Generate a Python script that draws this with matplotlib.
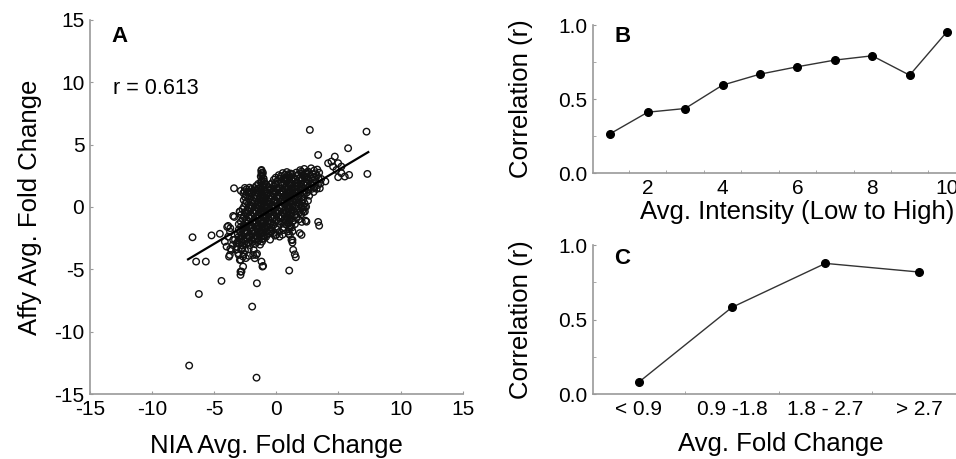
import numpy as np
import matplotlib
matplotlib.use("Agg")
import matplotlib.pyplot as plt
from matplotlib.ticker import FixedLocator

plt.rcParams['font.family'] = ['Liberation Sans', 'DejaVu Sans']
plt.rcParams['axes.unicode_minus'] = False

# ---- panel A: NIA vs Affy average fold change ----
outlier_pts = [
    (2.70, 6.18), (7.26, 6.04), (5.78, 4.71), (3.37, 4.17), (7.33, 2.65),
    (4.71, 4.04), (4.44, 3.64), (4.98, 3.51), (4.17, 3.51), (4.57, 3.24),
    (5.24, 3.24), (4.84, 2.97), (5.24, 2.71), (5.51, 2.44), (4.98, 2.39),
    (5.86, 2.57), (2.16, 2.57), (2.43, 2.71), (2.03, 2.84), (3.37, 1.77),
    (3.50, 1.50),
    (-6.74, -2.43), (-5.21, -2.28), (-4.54, -2.15), (-3.40, 1.50), (-6.45, -4.38),
    (-5.67, -4.38), (-4.41, -5.93), (-6.23, -6.98), (-7.01, -12.72), (-1.59, -13.69),
    (-1.94, -7.99), (-1.56, -6.12), (1.04, -5.10), (1.49, -3.80), (1.57, -4.03),
    (1.36, -3.44), (-1.06, -4.73), (-1.19, -4.38), (-1.73, -4.11), (-1.86, -3.85),
    (-2.88, -5.19), (-2.88, -5.45), (-2.67, -4.78), (-2.80, -5.18), (-1.11, -4.78),
    (3.37, -1.20), (3.45, -1.50), (2.16, 0.03), (2.30, -0.37), (2.43, -1.18),
    (1.89, -2.10), (2.03, -2.24), (1.22, -2.64), (1.30, -2.86), (0.95, -1.97),
    (1.09, -2.24), (0.00, -2.24), (0.26, -2.38), (-0.25, -2.10), (-0.52, -1.97),
    (-3.47, -0.72), (-2.93, -0.37), (-3.87, -1.52), (-3.70, -1.70), (-4.00, -3.18),
    (-3.60, -3.44), (-3.74, -3.85), (-3.07, -3.71), (-2.80, -3.44), (-2.67, -3.98),
    (-2.93, -4.25), (-4.14, -2.78), (-3.87, -2.38), (-3.47, -2.64), (-3.20, -2.91),
    (-2.40, -1.58), (-2.53, 1.53), (-2.29, 1.21), (-1.19, 2.97), (-1.19, 2.73),
]

core_pts = [
    (-1.20, 2.90), (-1.12, 2.62), (-1.25, 2.45), (0.52, 2.72), (0.85, 2.80),
    (1.15, 2.68), (1.92, 2.95), (2.25, 3.05), (2.55, 2.85), (2.80, 3.10),
    (3.05, 2.92), (3.30, 3.00), (3.45, 2.75), (2.05, 2.70), (1.60, 2.75),
    (-1.05, 2.30), (-1.18, 2.15), (-0.05, 2.35), (0.35, 2.45), (0.70, 2.30),
    (1.02, 2.50), (1.35, 2.38), (1.62, 2.48), (1.88, 2.32), (2.18, 2.52),
    (2.46, 2.40), (2.74, 2.55), (3.02, 2.38), (3.28, 2.50), (3.62, 2.25),
    (3.95, 2.05), (2.95, 2.62),
    (-1.22, 1.95), (-0.98, 2.05), (-0.35, 1.90), (0.08, 2.08), (0.42, 1.98),
    (0.76, 2.12), (1.08, 1.92), (1.40, 2.06), (1.72, 1.95), (2.02, 2.15),
    (2.30, 1.98), (2.62, 2.10), (2.90, 1.92), (3.20, 2.02), (3.55, 1.88),
    (1.25, 2.20), (2.45, 2.25),
    (-2.15, 1.55), (-1.62, 1.68), (-1.30, 1.52), (-1.02, 1.70), (-0.62, 1.58),
    (-0.22, 1.66), (0.18, 1.52), (0.48, 1.72), (0.82, 1.60), (1.12, 1.75),
    (1.44, 1.55), (1.70, 1.68), (2.02, 1.58), (2.35, 1.72), (2.70, 1.62),
    (3.08, 1.55), (1.95, 1.82), (0.95, 1.42),
    (-2.85, 1.30), (-2.55, 1.25), (-1.85, 1.28), (-1.55, 1.32), (-1.22, 1.38),
    (-0.88, 1.25), (-0.52, 1.35), (-0.18, 1.22), (0.12, 1.38), (0.42, 1.28),
    (0.72, 1.40), (1.02, 1.22), (1.32, 1.35), (1.62, 1.25), (1.92, 1.40),
    (2.25, 1.30), (2.60, 1.38), (3.00, 1.20), (3.25, 1.45),
    (-2.42, 0.95), (-2.02, 1.05), (-1.72, 0.92), (-1.42, 1.08), (-1.12, 0.98),
    (-0.82, 1.05), (-0.48, 0.92), (-0.18, 1.06), (0.12, 0.95), (0.40, 1.08),
    (0.70, 0.92), (1.00, 1.05), (1.30, 0.95), (1.60, 1.10), (1.90, 0.98),
    (2.28, 1.02), (2.65, 0.90),
    (-2.62, 0.55), (-2.22, 0.65), (-1.92, 0.52), (-1.62, 0.68), (-1.30, 0.58),
    (-1.02, 0.66), (-0.70, 0.52), (-0.40, 0.62), (-0.10, 0.55), (0.22, 0.68),
    (0.50, 0.58), (0.82, 0.64), (1.10, 0.52), (1.42, 0.66), (1.80, 0.58),
    (2.18, 0.62), (2.55, 0.50),
    (-2.48, 0.25), (-2.12, 0.15), (-1.80, 0.28), (-1.50, 0.18), (-1.18, 0.25),
    (-0.90, 0.12), (-0.58, 0.28), (-0.30, 0.15), (0.02, 0.25), (0.32, 0.12),
    (0.62, 0.28), (0.92, 0.18), (1.22, 0.26), (1.52, 0.14), (1.88, 0.22),
    (2.28, 0.30), (2.40, 0.02),
    (-2.72, -0.18), (-2.32, -0.25), (-2.00, -0.12), (-1.70, -0.28), (-1.40, -0.15),
    (-1.08, -0.22), (-0.78, -0.12), (-0.48, -0.28), (-0.20, -0.15), (0.10, -0.25),
    (0.40, -0.12), (0.72, -0.26), (1.02, -0.18), (1.32, -0.28), (1.70, -0.15),
    (2.12, -0.25), (2.30, 0.00),
    (-2.95, -0.38), (-2.82, -0.62), (-2.42, -0.55), (-2.10, -0.68), (-1.80, -0.52),
    (-1.50, -0.65), (-1.20, -0.55), (-0.90, -0.68), (-0.60, -0.52), (-0.30, -0.62),
    (0.02, -0.55), (0.30, -0.68), (0.62, -0.58), (0.90, -0.65), (1.22, -0.52),
    (1.60, -0.62), (2.02, -0.58), (2.20, -0.40),
    (-3.38, -0.80), (-2.70, -0.95), (-2.40, -1.05), (-2.10, -0.92), (-1.80, -1.08),
    (-1.50, -0.95), (-1.20, -1.05), (-0.90, -0.92), (-0.60, -1.06), (-0.30, -0.95),
    (0.00, -1.08), (0.38, -0.92), (0.78, -1.05), (1.10, -0.95), (1.42, -1.08),
    (1.82, -1.00), (2.35, -1.10), (2.05, -1.20),
    (-3.02, -1.38), (-2.62, -1.45), (-2.30, -1.32), (-2.00, -1.48), (-1.70, -1.35),
    (-1.40, -1.45), (-1.10, -1.32), (-0.80, -1.48), (-0.50, -1.38), (-0.22, -1.45),
    (0.28, -1.35), (0.80, -1.42), (1.12, -1.50), (1.50, -1.38),
    (-3.95, -1.60), (-3.02, -1.82), (-2.70, -1.75), (-2.40, -1.88), (-2.10, -1.72),
    (-1.80, -1.85), (-1.50, -1.78), (-1.20, -1.88), (-0.90, -1.72), (-0.52, -1.82),
    (0.00, -1.78), (0.58, -1.85), (1.02, -1.80), (1.30, -1.95),
    (-3.72, -1.98), (-3.10, -2.18), (-2.80, -2.25), (-2.50, -2.12), (-2.20, -2.28),
    (-1.90, -2.15), (-1.60, -2.25), (-1.30, -2.18), (-1.00, -2.28), (-0.62, -2.15),
    (-0.10, -2.30), (0.50, -2.22), (1.00, -2.15),
    (-3.32, -2.62), (-2.92, -2.55), (-2.62, -2.68), (-2.32, -2.52), (-2.02, -2.65),
    (-1.72, -2.58), (-1.42, -2.68), (-1.00, -2.55), (-0.50, -2.62), (1.30, -2.65),
    (-3.50, -3.05), (-3.02, -2.92), (-2.72, -3.08), (-2.42, -2.95), (-2.12, -3.05),
    (-1.72, -2.98), (-1.30, -3.02), (-3.15, -3.20),
    (-3.22, -3.42), (-2.82, -3.35), (-2.52, -3.48), (-2.22, -3.38), (-1.82, -3.45),
    (-3.70, -3.35),
    (-3.02, -3.85), (-2.62, -3.78), (-2.22, -3.92), (-1.62, -3.85), (-3.80, -3.98),
    (-2.85, -4.25), (-2.45, -4.10), (-1.55, -3.75),
]

dense_pts = [
    (0.20, 2.55), (0.68, 2.58), (1.30, 2.62), (1.78, 2.60), (2.35, 2.68), (2.62, 2.72), (3.15, 2.70),
    (-0.20, 2.18), (0.22, 2.25), (0.55, 2.20), (0.88, 2.28), (1.55, 2.22), (1.82, 2.12),
    (2.10, 2.30), (2.78, 2.28), (3.10, 2.20), (3.40, 2.32),
    (-1.45, 1.85), (-0.80, 1.78), (-0.45, 1.82), (-0.05, 1.80), (0.32, 1.85), (0.65, 1.90),
    (1.28, 1.85), (1.58, 1.92), (2.18, 1.85), (2.52, 1.88), (2.85, 1.78),
    (-2.40, 1.42), (-1.98, 1.45), (-1.75, 1.52), (-1.45, 1.48), (-0.75, 1.42), (-0.40, 1.50),
    (0.00, 1.45), (0.30, 1.48), (0.62, 1.52), (1.25, 1.50), (1.58, 1.42), (1.85, 1.55),
    (2.18, 1.48), (2.50, 1.52), (2.85, 1.45),
    (-2.65, 1.12), (-2.20, 1.15), (-1.98, 1.18), (-1.62, 1.15), (-1.30, 1.20), (-0.68, 1.15),
    (-0.32, 1.12), (0.00, 1.18), (0.28, 1.15), (0.55, 1.20), (0.85, 1.12), (1.18, 1.15),
    (1.48, 1.18), (1.78, 1.12), (2.10, 1.18), (2.45, 1.15),
    (-2.50, 0.78), (-2.10, 0.82), (-1.85, 0.75), (-1.55, 0.85), (-1.25, 0.80), (-0.95, 0.82),
    (-0.62, 0.78), (-0.32, 0.85), (0.02, 0.80), (0.30, 0.82), (0.60, 0.78), (0.88, 0.85),
    (1.20, 0.80), (1.50, 0.82), (1.75, 0.75), (2.05, 0.80),
    (-2.40, 0.42), (-2.05, 0.38), (-1.75, 0.45), (-1.42, 0.40), (-1.15, 0.45), (-0.85, 0.38),
    (-0.52, 0.42), (-0.22, 0.45), (0.08, 0.38), (0.38, 0.42), (0.70, 0.45), (1.00, 0.40),
    (1.30, 0.45), (1.62, 0.38), (2.00, 0.42),
    (-2.60, 0.02), (-2.25, -0.02), (-1.92, 0.05), (-1.62, -0.02), (-1.30, 0.02), (-0.98, 0.05),
    (-0.68, -0.02), (-0.38, 0.02), (-0.08, 0.05), (0.22, -0.02), (0.52, 0.02), (0.82, 0.05),
    (1.12, -0.02), (1.42, 0.02), (1.78, 0.05), (2.05, -0.05),
    (-2.55, -0.42), (-2.18, -0.38), (-1.88, -0.45), (-1.58, -0.40), (-1.28, -0.42), (-0.95, -0.38),
    (-0.65, -0.45), (-0.35, -0.40), (-0.05, -0.42), (0.25, -0.38), (0.55, -0.45), (0.85, -0.40),
    (1.15, -0.42), (1.48, -0.38), (1.85, -0.45),
    (-2.60, -0.78), (-2.25, -0.82), (-1.95, -0.75), (-1.65, -0.85), (-1.35, -0.80), (-1.02, -0.82),
    (-0.75, -0.78), (-0.45, -0.85), (-0.15, -0.80), (0.18, -0.82), (0.50, -0.78), (0.85, -0.85),
    (1.25, -0.80), (1.62, -0.82),
    (-2.85, -1.18), (-2.52, -1.22), (-2.22, -1.15), (-1.92, -1.25), (-1.62, -1.20), (-1.32, -1.18),
    (-1.02, -1.22), (-0.72, -1.15), (-0.42, -1.25), (-0.12, -1.20), (0.20, -1.18), (0.55, -1.22),
    (0.95, -1.25), (1.28, -1.20),
    (-2.85, -1.58), (-2.52, -1.62), (-2.22, -1.55), (-1.92, -1.65), (-1.62, -1.60), (-1.32, -1.58),
    (-1.02, -1.62), (-0.72, -1.55), (-0.38, -1.65), (0.10, -1.60), (0.60, -1.62), (1.25, -1.65),
    (-2.90, -2.02), (-2.60, -1.98), (-2.30, -2.05), (-2.00, -1.95), (-1.70, -2.02), (-1.40, -1.98),
    (-1.10, -2.05), (-0.78, -1.98), (-0.40, -2.02), (0.25, -2.00),
    (-3.05, -2.42), (-2.72, -2.38), (-2.42, -2.45), (-2.12, -2.40), (-1.82, -2.45), (-1.52, -2.38),
    (-1.22, -2.42), (-0.82, -2.40),
    (-3.10, -2.80), (-2.80, -2.82), (-2.50, -2.78), (-2.22, -2.85), (-1.90, -2.80), (-1.55, -2.82),
    (-1.15, -2.78),
]

band_pts = [
    (-1.08, 2.75), (-1.15, 2.52), (-1.02, 2.28), (-1.20, 2.05), (-1.05, 1.82),
    (-1.12, 1.58), (-0.98, 1.35), (-1.18, 1.12), (-1.05, 0.88), (-1.12, 0.62),
    (-0.95, 0.40), (-1.20, 0.15), (-1.05, -0.10), (-1.15, -0.35), (-0.98, -0.58),
    (-1.10, -0.82), (-1.22, -1.08), (-1.02, -1.32), (-1.15, -1.58), (-1.08, -1.85),
    (-1.20, -2.10), (-1.00, -2.35), (-1.12, -2.55),
    (0.95, 2.62), (1.05, 2.38), (0.92, 2.15), (1.08, 1.88), (0.98, 1.62),
    (1.12, 1.38), (0.90, 1.12), (1.05, 0.85), (0.95, 0.60), (1.10, 0.35),
    (0.92, 0.10), (1.05, -0.15), (0.98, -0.40), (1.12, -0.62), (0.90, -0.88),
    (1.05, -1.12), (0.95, -1.35), (1.10, -1.60),
]

fit_x = [-7.1, 7.4]
fit_y = [-4.2, 4.4]
r_text = "r = 0.613"

# ---- panel B: correlation by intensity decile ----
intensity_bin = [1, 2, 3, 4, 5, 6, 7, 8, 9, 10]
corr_intensity = [0.266, 0.411, 0.436, 0.594, 0.668, 0.718, 0.763, 0.792, 0.661, 0.955]

# ---- panel C: correlation by fold-change class ----
fc_labels = ["< 0.9", "0.9 -1.8", "1.8 - 2.7", "> 2.7"]
corr_fc = [0.078, 0.582, 0.877, 0.819]

spine_col = "#9a9a9a"
tick_fs = 15
label_fs = 18.5


def style_axes(ax):
    for s in ("top", "right"):
        ax.spines[s].set_visible(False)
    for s in ("left", "bottom"):
        ax.spines[s].set_color(spine_col)
        ax.spines[s].set_linewidth(1.2)
    ax.tick_params(which="both", direction="in", color=spine_col, labelsize=tick_fs, pad=4)
    ax.tick_params(which="major", length=2.5)
    ax.tick_params(which="minor", length=2)


fig = plt.figure(figsize=(9.56, 4.59), dpi=100)

# panel A
axA = fig.add_axes([0.094, 0.1416, 0.390, 0.815])
pts = np.array(outlier_pts + core_pts + dense_pts + band_pts)
axA.scatter(pts[:, 0], pts[:, 1], s=22, facecolors="none", edgecolors="#111111", linewidths=1.0)
axA.plot(fit_x, fit_y, color="black", lw=1.6)
axA.set_xlim(-15, 15)
axA.set_ylim(-15, 15)
axA.set_xticks([-15, -10, -5, 0, 5, 10, 15])
axA.set_yticks([-15, -10, -5, 0, 5, 10, 15])
style_axes(axA)
axA.set_xlabel("NIA Avg. Fold Change", fontsize=label_fs, labelpad=11)
axA.set_ylabel("Affy Avg. Fold Change", fontsize=label_fs, labelpad=9)
axA.text(0.058, 0.985, "A", transform=axA.transAxes, fontsize=16, fontweight="bold", va="top")
axA.text(0.062, 0.818, r_text, transform=axA.transAxes, fontsize=15.5, va="center")

# panel B (axes runs past the right edge of the figure, as in the original crop)
axB = fig.add_axes([0.620, 0.623, 0.427, 0.3225])
axB.plot(intensity_bin, corr_intensity, color="#333333", lw=1.0, marker="o",
         markersize=5.5, markerfacecolor="black", markeredgecolor="black")
axB.set_xlim(0.53, 11.44)
axB.set_ylim(0, 1.0)
axB.set_xticks([2, 4, 6, 8, 10])
axB.xaxis.set_minor_locator(FixedLocator([1.5, 2.5, 3.5, 4.5, 5.5, 6.5, 7.5, 8.5, 9.5]))
axB.set_yticks([0.0, 0.5, 1.0])
axB.set_yticklabels(["0.0", "0.5", "1.0"])
axB.yaxis.set_minor_locator(FixedLocator([0.25, 0.75]))
style_axes(axB)
axB.tick_params(which="major", axis="x", length=0)
axB.set_xlabel("Avg. Intensity (Low to High)", fontsize=label_fs, labelpad=2)
axB.set_ylabel("Correlation (r)", fontsize=label_fs, labelpad=18)
axB.text(1.1, 0.99, "B", fontsize=16, fontweight="bold", va="top")

# panel C
axC = fig.add_axes([0.620, 0.1416, 0.393, 0.3245])
xc = np.arange(len(fc_labels))
axC.plot(xc, corr_fc, color="#333333", lw=1.0, marker="o",
         markersize=5.5, markerfacecolor="black", markeredgecolor="black")
axC.set_xlim(-0.49, 3.53)
axC.set_ylim(0, 1.0)
axC.set_xticks(xc)
axC.set_xticklabels(fc_labels)
axC.xaxis.set_minor_locator(FixedLocator([0.5, 1.5, 2.5]))
axC.set_yticks([0.0, 0.5, 1.0])
axC.set_yticklabels(["0.0", "0.5", "1.0"])
axC.yaxis.set_minor_locator(FixedLocator([0.25, 0.75]))
style_axes(axC)
axC.tick_params(which="major", axis="x", length=0)
axC.set_xlabel("Avg. Fold Change", fontsize=label_fs, labelpad=10)
axC.set_ylabel("Correlation (r)", fontsize=label_fs, labelpad=18)
axC.text(0.056, 0.98, "C", transform=axC.transAxes, fontsize=16, fontweight="bold", va="top")

fig.savefig("out.png", dpi=100)
